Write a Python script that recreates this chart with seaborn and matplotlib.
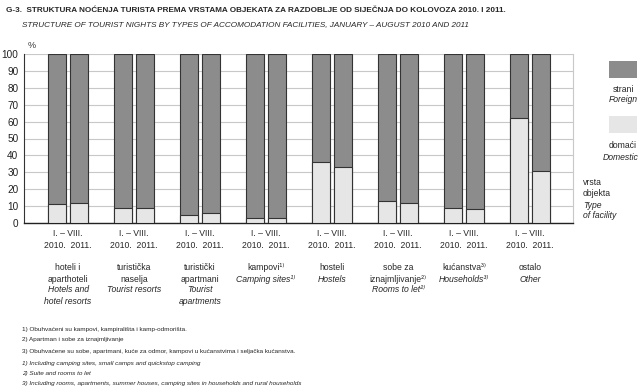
import matplotlib
matplotlib.use("Agg")
import matplotlib.pyplot as plt
import matplotlib.patches as mpatches
import matplotlib.transforms as mtransforms
import seaborn as sns
import pandas as pd

names_hr = ["hoteli i\naparthoteli", "turistička\nnaselja", "turistički\napartmani", "kampovi¹⁾",
            "hosteli", "sobe za\niznajmljivanje²⁾", "kućanstva³⁾", "ostalo"]
names_en = ["Hotels and\nhotel resorts", "Tourist resorts", "Tourist\napartments", "Camping sites¹⁾",
            "Hostels", "Rooms to let²⁾", "Households³⁾", "Other"]
years = ["2010.", "2011."]
domestic_2010 = [11, 9, 5, 3, 36, 13, 9, 62]
domestic_2011 = [12, 9, 6, 3, 33, 12, 8, 31]

cats = [f"c{i}" for i in range(len(names_hr))]
df = pd.DataFrame({
    "cat": cats * 2,
    "year": [years[0]] * 8 + [years[1]] * 8,
    "domestic": domestic_2010 + domestic_2011,
})
df["total"] = 100

dark = "#8c8c8c"
light = "#e6e6e6"

sns.set_style("white")
plt.rcParams['font.family'] = ['Liberation Sans', 'DejaVu Sans']

fig = plt.figure(figsize=(6.41, 3.91), dpi=100)
ax = fig.add_axes([24 / 641, 1 - 223 / 391, 549 / 641, 169 / 391])

sns.barplot(data=df, x="cat", y="total", hue="year", palette=[dark, dark], width=0.667, gap=0.18,
            edgecolor="#333333", linewidth=0.8, ax=ax, legend=False, zorder=3)
sns.barplot(data=df, x="cat", y="domestic", hue="year", palette=[light, light], width=0.667, gap=0.18,
            edgecolor="#333333", linewidth=0.8, ax=ax, legend=False, zorder=4)

ax.set_xlim(-0.667, 7.65)
ax.set_ylim(0, 100)
ax.set_yticks(range(0, 101, 10))
ax.tick_params(axis="y", length=0, labelsize=7.2, pad=4, labelcolor="#222222")
ax.set_xticks([])
ax.set_xlabel("")
ax.set_ylabel("")
ax.yaxis.grid(True, color="#c8c8c8", linewidth=0.8, zorder=0)
ax.set_axisbelow(True)
ax.spines["top"].set_visible(False)
ax.spines["right"].set_color("#c8c8c8")
ax.spines["left"].set_color("#333333")
ax.spines["bottom"].set_color("#222222")
ax.spines["bottom"].set_linewidth(1.0)

fig.text(28 / 641, 1 - 45 / 391, "%", fontsize=6.5, color="#333333", ha="left", va="center")

fs = 6.2
lh = 11
trans = mtransforms.blended_transform_factory(ax.transData, fig.transFigure)
for i in range(len(cats)):
    ax.text(i, 1 - 234 / 391, "I. – VIII.", transform=trans, ha="center", va="center", fontsize=fs)
    ax.text(i, 1 - 246 / 391, "2010.  2011.", transform=trans, ha="center", va="center", fontsize=fs)
    y = 268
    for line in names_hr[i].split("\n"):
        ax.text(i, 1 - y / 391, line, transform=trans, ha="center", va="center", fontsize=fs)
        y += lh
    for line in names_en[i].split("\n"):
        ax.text(i, 1 - y / 391, line, transform=trans, ha="center", va="center", fontsize=fs,
                style="italic")
        y += lh

fig.text(6 / 641, 1 - 10 / 391, "G-3.  STRUKTURA NOĆENJA TURISTA PREMA VRSTAMA OBJEKATA ZA RAZDOBLJE OD SIJEČNJA DO KOLOVOZA 2010. I 2011.",
         fontsize=5.9, fontweight="bold", va="center", ha="left")
fig.text(22 / 641, 1 - 25 / 391, "STRUCTURE OF TOURIST NIGHTS BY TYPES OF ACCOMODATION FACILITIES, JANUARY – AUGUST 2010 AND 2011",
         fontsize=5.9, style="italic", va="center", ha="left")

# legend
fig.patches.append(mpatches.Rectangle((609 / 641, 1 - 78 / 391), 28 / 641, 17 / 391,
                                      transform=fig.transFigure, facecolor=dark, edgecolor="none"))
fig.patches.append(mpatches.Rectangle((609 / 641, 1 - 133 / 391), 28 / 641, 17 / 391,
                                      transform=fig.transFigure, facecolor=light, edgecolor="none"))
fig.text(623 / 641, 1 - 89 / 391, "strani", fontsize=fs, ha="center", va="center")
fig.text(623 / 641, 1 - 100 / 391, "Foreign", fontsize=fs, ha="center", va="center", style="italic")
fig.text(623 / 641, 1 - 146 / 391, "domaći", fontsize=fs, ha="center", va="center")
fig.text(621 / 641, 1 - 157 / 391, "Domestic", fontsize=fs, ha="center", va="center", style="italic")
for k, (txt, st) in enumerate([("vrsta", "normal"), ("objekta", "normal"), ("Type", "italic"),
                               ("of facility", "italic")]):
    fig.text(583 / 641, 1 - (183 + 11 * k) / 391, txt, fontsize=fs, ha="left", va="center", style=st)

notes = [
    ("1) Obuhvaćeni su kampovi, kampirališta i kamp-odmorišta.", "normal", 330),
    ("2) Apartman i sobe za iznajmljivanje", "normal", 340),
    ("3) Obuhvaćene su sobe, apartmani, kuće za odmor, kampovi u kućanstvima i seljačka kućanstva.", "normal", 351),
    ("1) Including camping sites, small camps and quickstop camping", "italic", 363),
    ("2) Suite and rooms to let", "italic", 373),
    ("3) Including rooms, apartments, summer houses, camping sites in households and rural households", "italic", 383),
]
for txt, st, y in notes:
    fig.text(22 / 641, 1 - y / 391, txt, fontsize=4.6, style=st, ha="left", va="center")

fig.savefig("out.png", dpi=100, facecolor="white")
